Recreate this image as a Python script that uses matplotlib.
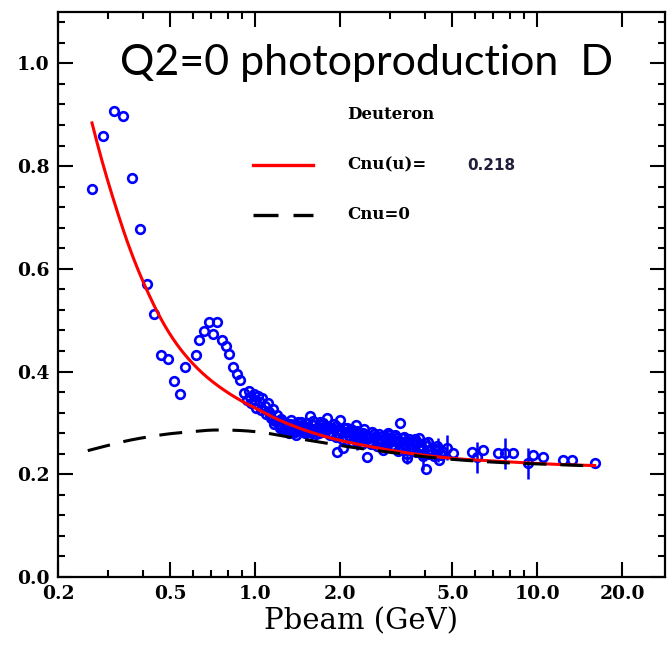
import numpy as np
import matplotlib
matplotlib.use("Agg")
import matplotlib.pyplot as plt
from matplotlib.ticker import FixedLocator, FixedFormatter
from matplotlib.font_manager import FontProperties

# measured points, below 1 GeV (resonance region)
pbeam_low = [0.264, 0.289, 0.316, 0.340, 0.366, 0.391, 0.414, 0.438, 0.464, 0.491,
             0.515, 0.542, 0.564, 0.616, 0.632, 0.658, 0.686, 0.708, 0.732, 0.762,
             0.788, 0.808, 0.834, 0.862, 0.884, 0.914, 0.936]
ratio_low = [0.755, 0.858, 0.907, 0.897, 0.777, 0.678, 0.571, 0.513, 0.433, 0.425,
             0.381, 0.357, 0.408, 0.433, 0.462, 0.478, 0.497, 0.474, 0.497, 0.462,
             0.450, 0.435, 0.408, 0.396, 0.383, 0.359, 0.344]

# dense band 1-4.6 GeV
pbeam_band = [0.95, 0.96, 0.97, 0.99, 1.00, 1.01, 1.02, 1.04, 1.05, 1.06, 1.08, 1.09,
              1.11, 1.12, 1.14, 1.16, 1.18, 1.20,
              1.22, 1.24, 1.26, 1.28, 1.30, 1.32, 1.34, 1.36, 1.38, 1.40, 1.42, 1.44,
              1.47, 1.50, 1.53, 1.56, 1.58, 1.61, 1.64, 1.67, 1.70, 1.73, 1.76, 1.80,
              1.83, 1.86, 1.90, 1.93, 1.95, 1.97, 2.00, 2.03, 2.05, 2.08, 2.12, 2.16,
              2.20, 2.24, 2.28, 2.32, 2.36, 2.40, 2.44, 2.49, 2.52, 2.56, 2.60, 2.65,
              2.70, 2.75, 2.80, 2.85, 2.90, 2.95, 3.00, 3.05, 3.10, 3.16, 3.22, 3.27,
              3.33, 3.40, 3.46, 3.52, 3.58, 3.65, 3.72, 3.80, 3.88, 3.95, 4.05, 4.10,
              4.20, 4.30, 4.40, 4.50, 4.60,
              1.23, 1.27, 1.31, 1.35, 1.39, 1.43, 1.48, 1.52, 1.57, 1.62, 1.68, 1.74,
              1.79, 1.85, 1.91, 1.99, 2.06, 2.14, 2.22, 2.30, 2.38, 2.47, 2.58, 2.68,
              2.78, 2.88, 2.98, 3.08, 3.19, 3.30, 3.42, 3.55, 3.68, 3.84, 4.00, 4.15,
              4.35, 4.55,
              1.13, 1.17, 1.21, 1.25, 1.29, 1.33, 1.37, 1.41, 1.46, 1.51, 1.55, 1.60,
              1.66, 1.71, 1.77, 1.82, 1.88, 1.94, 2.02, 2.10, 2.18, 2.26, 2.34, 2.42,
              2.54, 2.63, 2.73, 2.83, 2.93, 3.03, 3.13, 3.24, 3.36, 3.49, 3.62, 3.76,
              3.92, 4.08, 4.25, 4.45]
ratio_band = [0.362, 0.350, 0.338, 0.357, 0.345, 0.330, 0.352, 0.340, 0.325, 0.348, 0.333, 0.318,
              0.338, 0.322, 0.310, 0.328, 0.303, 0.315,
              0.296, 0.308, 0.285, 0.300, 0.292, 0.280, 0.305, 0.289, 0.297, 0.276, 0.302, 0.288,
              0.295, 0.281, 0.300, 0.313, 0.287, 0.296, 0.278, 0.292, 0.302, 0.284, 0.293, 0.310,
              0.279, 0.290, 0.298, 0.272, 0.243, 0.286, 0.305, 0.268, 0.252, 0.282, 0.291, 0.275,
              0.262, 0.284, 0.296, 0.270, 0.279, 0.258, 0.288, 0.233, 0.274, 0.265, 0.283, 0.270,
              0.255, 0.278, 0.266, 0.247, 0.272, 0.281, 0.262, 0.251, 0.274, 0.265, 0.246, 0.300,
              0.270, 0.258, 0.231, 0.268, 0.252, 0.262, 0.244, 0.270, 0.256, 0.240, 0.210, 0.262,
              0.248, 0.236, 0.255, 0.227, 0.245,
              0.290, 0.302, 0.285, 0.296, 0.283, 0.294, 0.286, 0.292, 0.282, 0.289, 0.281, 0.300,
              0.286, 0.276, 0.289, 0.279, 0.290, 0.283, 0.276, 0.285, 0.267, 0.276, 0.259, 0.275,
              0.260, 0.268, 0.276, 0.257, 0.270, 0.255, 0.265, 0.258, 0.268, 0.250, 0.260, 0.240,
              0.250, 0.238,
              0.316, 0.298, 0.304, 0.293, 0.287, 0.298, 0.284, 0.293, 0.302, 0.290, 0.276, 0.304,
              0.287, 0.296, 0.283, 0.292, 0.280, 0.294, 0.284, 0.272, 0.288, 0.279, 0.265, 0.281,
              0.270, 0.279, 0.265, 0.274, 0.258, 0.268, 0.276, 0.260, 0.272, 0.262, 0.250, 0.262,
              0.248, 0.255, 0.242, 0.250]

# points with error bars in the band
pbeam_bar = [2.30, 3.46, 3.95, 4.45]
ratio_bar = [0.262, 0.240, 0.236, 0.247]
err_bar = [0.015, 0.020, 0.028, 0.024]

# higher energy points
pbeam_hi = [4.79, 5.03, 5.88, 6.12, 6.43, 7.26, 7.69, 8.21, 9.29, 9.66, 10.5, 12.4, 13.3, 16.0]
ratio_hi = [0.252, 0.241, 0.243, 0.233, 0.247, 0.241, 0.241, 0.241, 0.221, 0.237, 0.233, 0.227, 0.227, 0.221]
err_hi = [0.024, 0.0, 0.0, 0.030, 0.0, 0.0, 0.030, 0.0, 0.030, 0.0, 0.0, 0.0, 0.0, 0.0]

# fit curves
pbeam_fit = [0.264, 0.28, 0.30, 0.32, 0.35, 0.38, 0.42, 0.46, 0.50, 0.55, 0.60, 0.65,
             0.70, 0.80, 0.90, 1.0, 1.2, 1.5, 2.0, 2.5, 3.0, 4.0, 5.0, 7.0, 10.0, 16.0]
cnu_u = [0.884, 0.830, 0.772, 0.722, 0.657, 0.605, 0.550, 0.506, 0.472, 0.440, 0.416, 0.397,
         0.382, 0.359, 0.342, 0.329, 0.307, 0.286, 0.266, 0.255, 0.247, 0.237, 0.231, 0.226,
         0.221, 0.217]
pbeam_zero = [0.255, 0.30, 0.35, 0.42, 0.5, 0.6, 0.7, 0.8, 0.9, 1.04, 1.3, 1.72, 2.0, 3.0,
              4.0, 5.6, 8.0, 11.7, 16.0]
cnu_zero = [0.246, 0.256, 0.265, 0.273, 0.279, 0.283, 0.286, 0.286, 0.285, 0.282, 0.273,
            0.262, 0.256, 0.243, 0.234, 0.227, 0.222, 0.219, 0.216]

xticks = [0.2, 0.5, 1.0, 2.0, 5.0, 10.0, 20.0]
xminor = [0.3, 0.4, 0.6, 0.7, 0.8, 0.9, 3, 4, 6, 7, 8, 9]
yticks = [0.0, 0.2, 0.4, 0.6, 0.8, 1.0]

W, H = 667, 654
fig = plt.figure(figsize=(W / 100, H / 100), dpi=100)
ax = fig.add_axes([58 / W, 1 - 577 / H, 607 / W, 565 / H])

blue = "#0000ff"
ax.errorbar(pbeam_hi, ratio_hi, yerr=err_hi, fmt="none", ecolor=blue, elinewidth=1.8, zorder=2)
ax.errorbar(pbeam_bar, ratio_bar, yerr=err_bar, fmt="none", ecolor=blue, elinewidth=1.8, zorder=2)
for xs, ys in [(pbeam_low, ratio_low), (pbeam_band, ratio_band), (pbeam_bar, ratio_bar),
               (pbeam_hi, ratio_hi)]:
    ax.plot(xs, ys, "o", ms=6.2, mfc="none", mec=blue, mew=1.9, zorder=3)

# fit curves, drawn through the read-off points (local cubic in log x)
def smooth(px, py, n=400):
    lx = np.log10(px)
    xs = np.linspace(lx[0], lx[-1], n)
    ys = np.zeros_like(xs)
    for i in range(len(lx) - 1):
        m = (xs >= lx[i]) & (xs <= lx[i + 1])
        j0, j3 = max(i - 1, 0), min(i + 2, len(lx) - 1)
        c = np.polyfit(lx[j0:j3 + 1], np.asarray(py)[j0:j3 + 1], min(3, j3 - j0))
        ys[m] = np.polyval(c, xs[m])
    return 10 ** xs, ys

xs, ys = smooth(pbeam_fit, cnu_u)
ax.plot(xs, ys, color="red", lw=2.2, zorder=4)
xz, yz = smooth(pbeam_zero, cnu_zero)
ax.plot(xz, yz, color="black", lw=2.2, ls=(0, (7.5, 4.5)), zorder=4)

ax.set_xscale("log")
ax.set_xlim(0.2, 28.4)
ax.set_ylim(0, 1.1)
ax.xaxis.set_major_locator(FixedLocator(xticks))
ax.xaxis.set_major_formatter(FixedFormatter(["%.1f" % t for t in xticks]))
ax.xaxis.set_minor_locator(FixedLocator(xminor))
ax.xaxis.set_minor_formatter(FixedFormatter([""] * len(xminor)))
ax.yaxis.set_major_locator(FixedLocator(yticks))
ax.yaxis.set_major_formatter(FixedFormatter(["%.1f" % t for t in yticks]))
ax.yaxis.set_minor_locator(FixedLocator(np.arange(0.04, 1.1, 0.04)))

tickfont = FontProperties(family="DejaVu Serif", weight="bold", size=13.5)
ax.tick_params(which="both", direction="in", top=True, right=True, width=1.5, pad=6)
ax.tick_params(which="major", length=11)
ax.tick_params(which="minor", length=5)
for lab in ax.get_xticklabels() + ax.get_yticklabels():
    lab.set_fontproperties(tickfont)
for sp in ax.spines.values():
    sp.set_linewidth(1.6)

ax.set_xlabel("Pbeam (GeV)", family="DejaVu Serif", fontsize=21, labelpad=3)

ax.text(0.509, 0.888, "Q2=0 photoproduction  D", transform=ax.transAxes, ha="center",
        va="baseline", family="Lato", fontsize=31)

lfont = dict(family="DejaVu Serif", weight="bold", fontsize=12, transform=ax.transAxes,
             va="center", ha="left")
ax.text(0.476, 0.818, "Deuteron", **lfont)
ax.text(0.476, 0.729, "Cnu(u)=", **lfont)
ax.text(0.674, 0.729, "0.218", transform=ax.transAxes, va="center", ha="left",
        family="DejaVu Sans", weight="bold", fontsize=11, color="#20203a")
ax.text(0.476, 0.641, "Cnu=0", **lfont)
ax.plot([0.321, 0.420], [0.729, 0.729], color="red", lw=2.4, transform=ax.transAxes)
ax.plot([0.321, 0.420], [0.641, 0.641], color="black", lw=2.4, ls=(0, (7.5, 4.5)),
        transform=ax.transAxes)

fig.savefig("out.png", dpi=100)
